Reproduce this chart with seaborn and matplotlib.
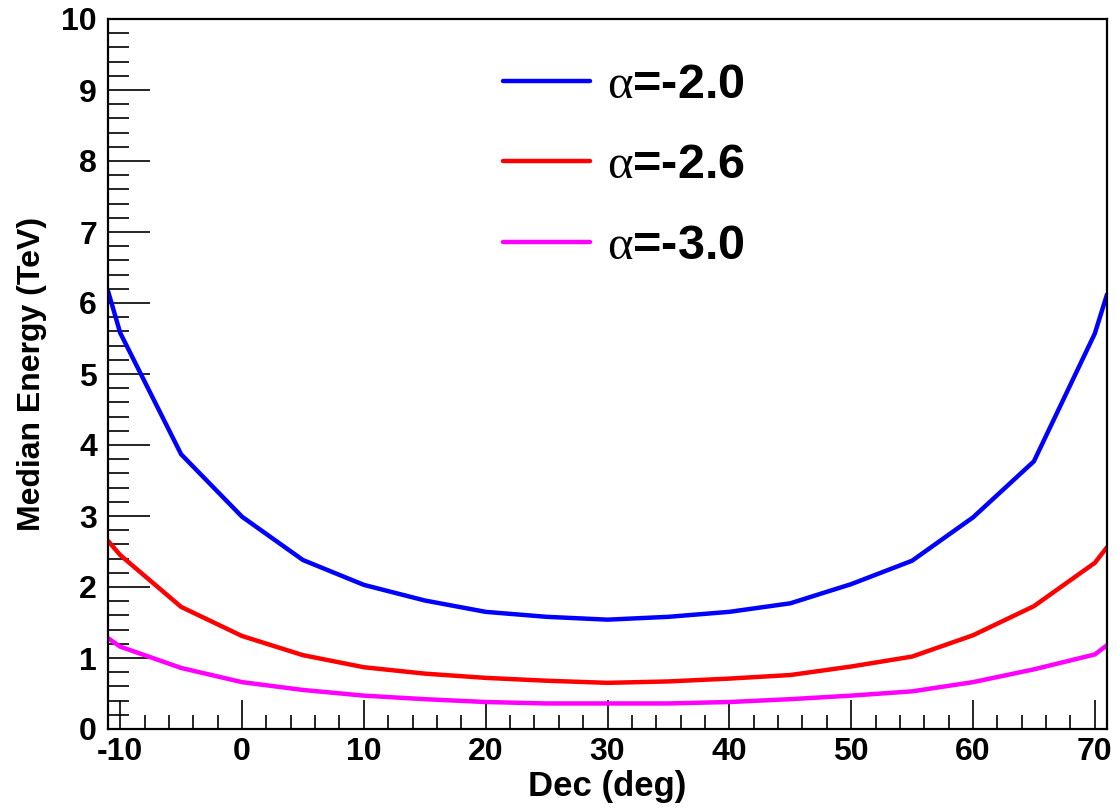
import numpy as np
import pandas as pd
import matplotlib
matplotlib.use("Agg")
import matplotlib.pyplot as plt
from matplotlib.ticker import MultipleLocator
import seaborn as sns

dec = [-11, -10, -5, 0, 5, 10, 15, 20, 25, 30, 35, 40, 45, 50, 55, 60, 65, 70, 71]
e_a20 = [6.17, 5.58, 3.87, 2.99, 2.38, 2.03, 1.81, 1.65, 1.58, 1.54, 1.58, 1.65, 1.77, 2.04, 2.37, 2.98, 3.77, 5.57, 6.12]
e_a26 = [2.65, 2.45, 1.72, 1.31, 1.04, 0.87, 0.78, 0.72, 0.68, 0.65, 0.67, 0.71, 0.76, 0.88, 1.02, 1.32, 1.73, 2.34, 2.56]
e_a30 = [1.28, 1.16, 0.86, 0.66, 0.55, 0.47, 0.42, 0.38, 0.36, 0.36, 0.36, 0.38, 0.42, 0.47, 0.53, 0.66, 0.84, 1.05, 1.18]
labels = [r"$\mathrm{\alpha}$=-2.0", r"$\mathrm{\alpha}$=-2.6", r"$\mathrm{\alpha}$=-3.0"]
colors = ["#0000ff", "#ff0000", "#ff00ff"]

sns.set_style("ticks")
plt.rcParams["font.family"] = ["Liberation Sans", "DejaVu Sans"]
plt.rcParams["font.weight"] = "bold"
plt.rcParams["axes.unicode_minus"] = False
plt.rcParams["text.color"] = "black"
plt.rcParams["axes.labelcolor"] = "black"
plt.rcParams["xtick.color"] = "black"
plt.rcParams["ytick.color"] = "black"
plt.rcParams["mathtext.fontset"] = "custom"
plt.rcParams["mathtext.rm"] = "Liberation Serif:normal"
plt.rcParams["mathtext.it"] = "Liberation Serif:normal"
plt.rcParams["mathtext.bf"] = "Liberation Serif:normal"

frames = []
for lab, vals in zip(labels, [e_a20, e_a26, e_a30]):
    frames.append(pd.DataFrame({"dec": dec, "energy": vals, "series": lab}))
df = pd.concat(frames, ignore_index=True)

fig = plt.figure(figsize=(11.17, 8.08), dpi=100)
ax = fig.add_axes([108/1117, 1 - 729/808, (1107-108)/1117, (729-19)/808])

sns.lineplot(data=df, x="dec", y="energy", hue="series", palette=colors,
             hue_order=labels, linewidth=3.2, ax=ax, legend=True, sort=False)

ax.set_xlim(-11, 71)
ax.set_ylim(0, 10)
ax.xaxis.set_major_locator(MultipleLocator(10))
ax.xaxis.set_minor_locator(MultipleLocator(2))
ax.yaxis.set_major_locator(MultipleLocator(1))
ax.yaxis.set_minor_locator(MultipleLocator(0.2))
ax.tick_params(axis="x", which="major", direction="in", length=21, width=1.2, labelsize=23, pad=6)
ax.tick_params(axis="x", which="minor", direction="in", length=10, width=1.2)
ax.tick_params(axis="y", which="major", direction="in", length=30, width=1.2, labelsize=23, pad=8)
ax.tick_params(axis="y", which="minor", direction="in", length=15, width=1.2)
for lbl in ax.get_xticklabels() + ax.get_yticklabels():
    lbl.set_fontweight("bold")
for sp in ax.spines.values():
    sp.set_linewidth(1.6)
    sp.set_color("black")

ax.set_xlabel("Dec (deg)", fontsize=25, fontweight="bold", labelpad=2)
ax.set_ylabel("Median Energy (TeV)", fontsize=23, fontweight="bold", labelpad=10)

handles, labs = ax.get_legend_handles_labels()
leg = ax.legend(handles, labs, loc="upper left", bbox_to_anchor=(0.352, 1.0),
                frameon=False, handlelength=1.78, handletextpad=0.35,
                labelspacing=0.73, prop={"size": 35, "weight": "bold"})
for ln in leg.get_lines():
    ln.set_linewidth(3.2)

fig.savefig("out.png", dpi=100)
